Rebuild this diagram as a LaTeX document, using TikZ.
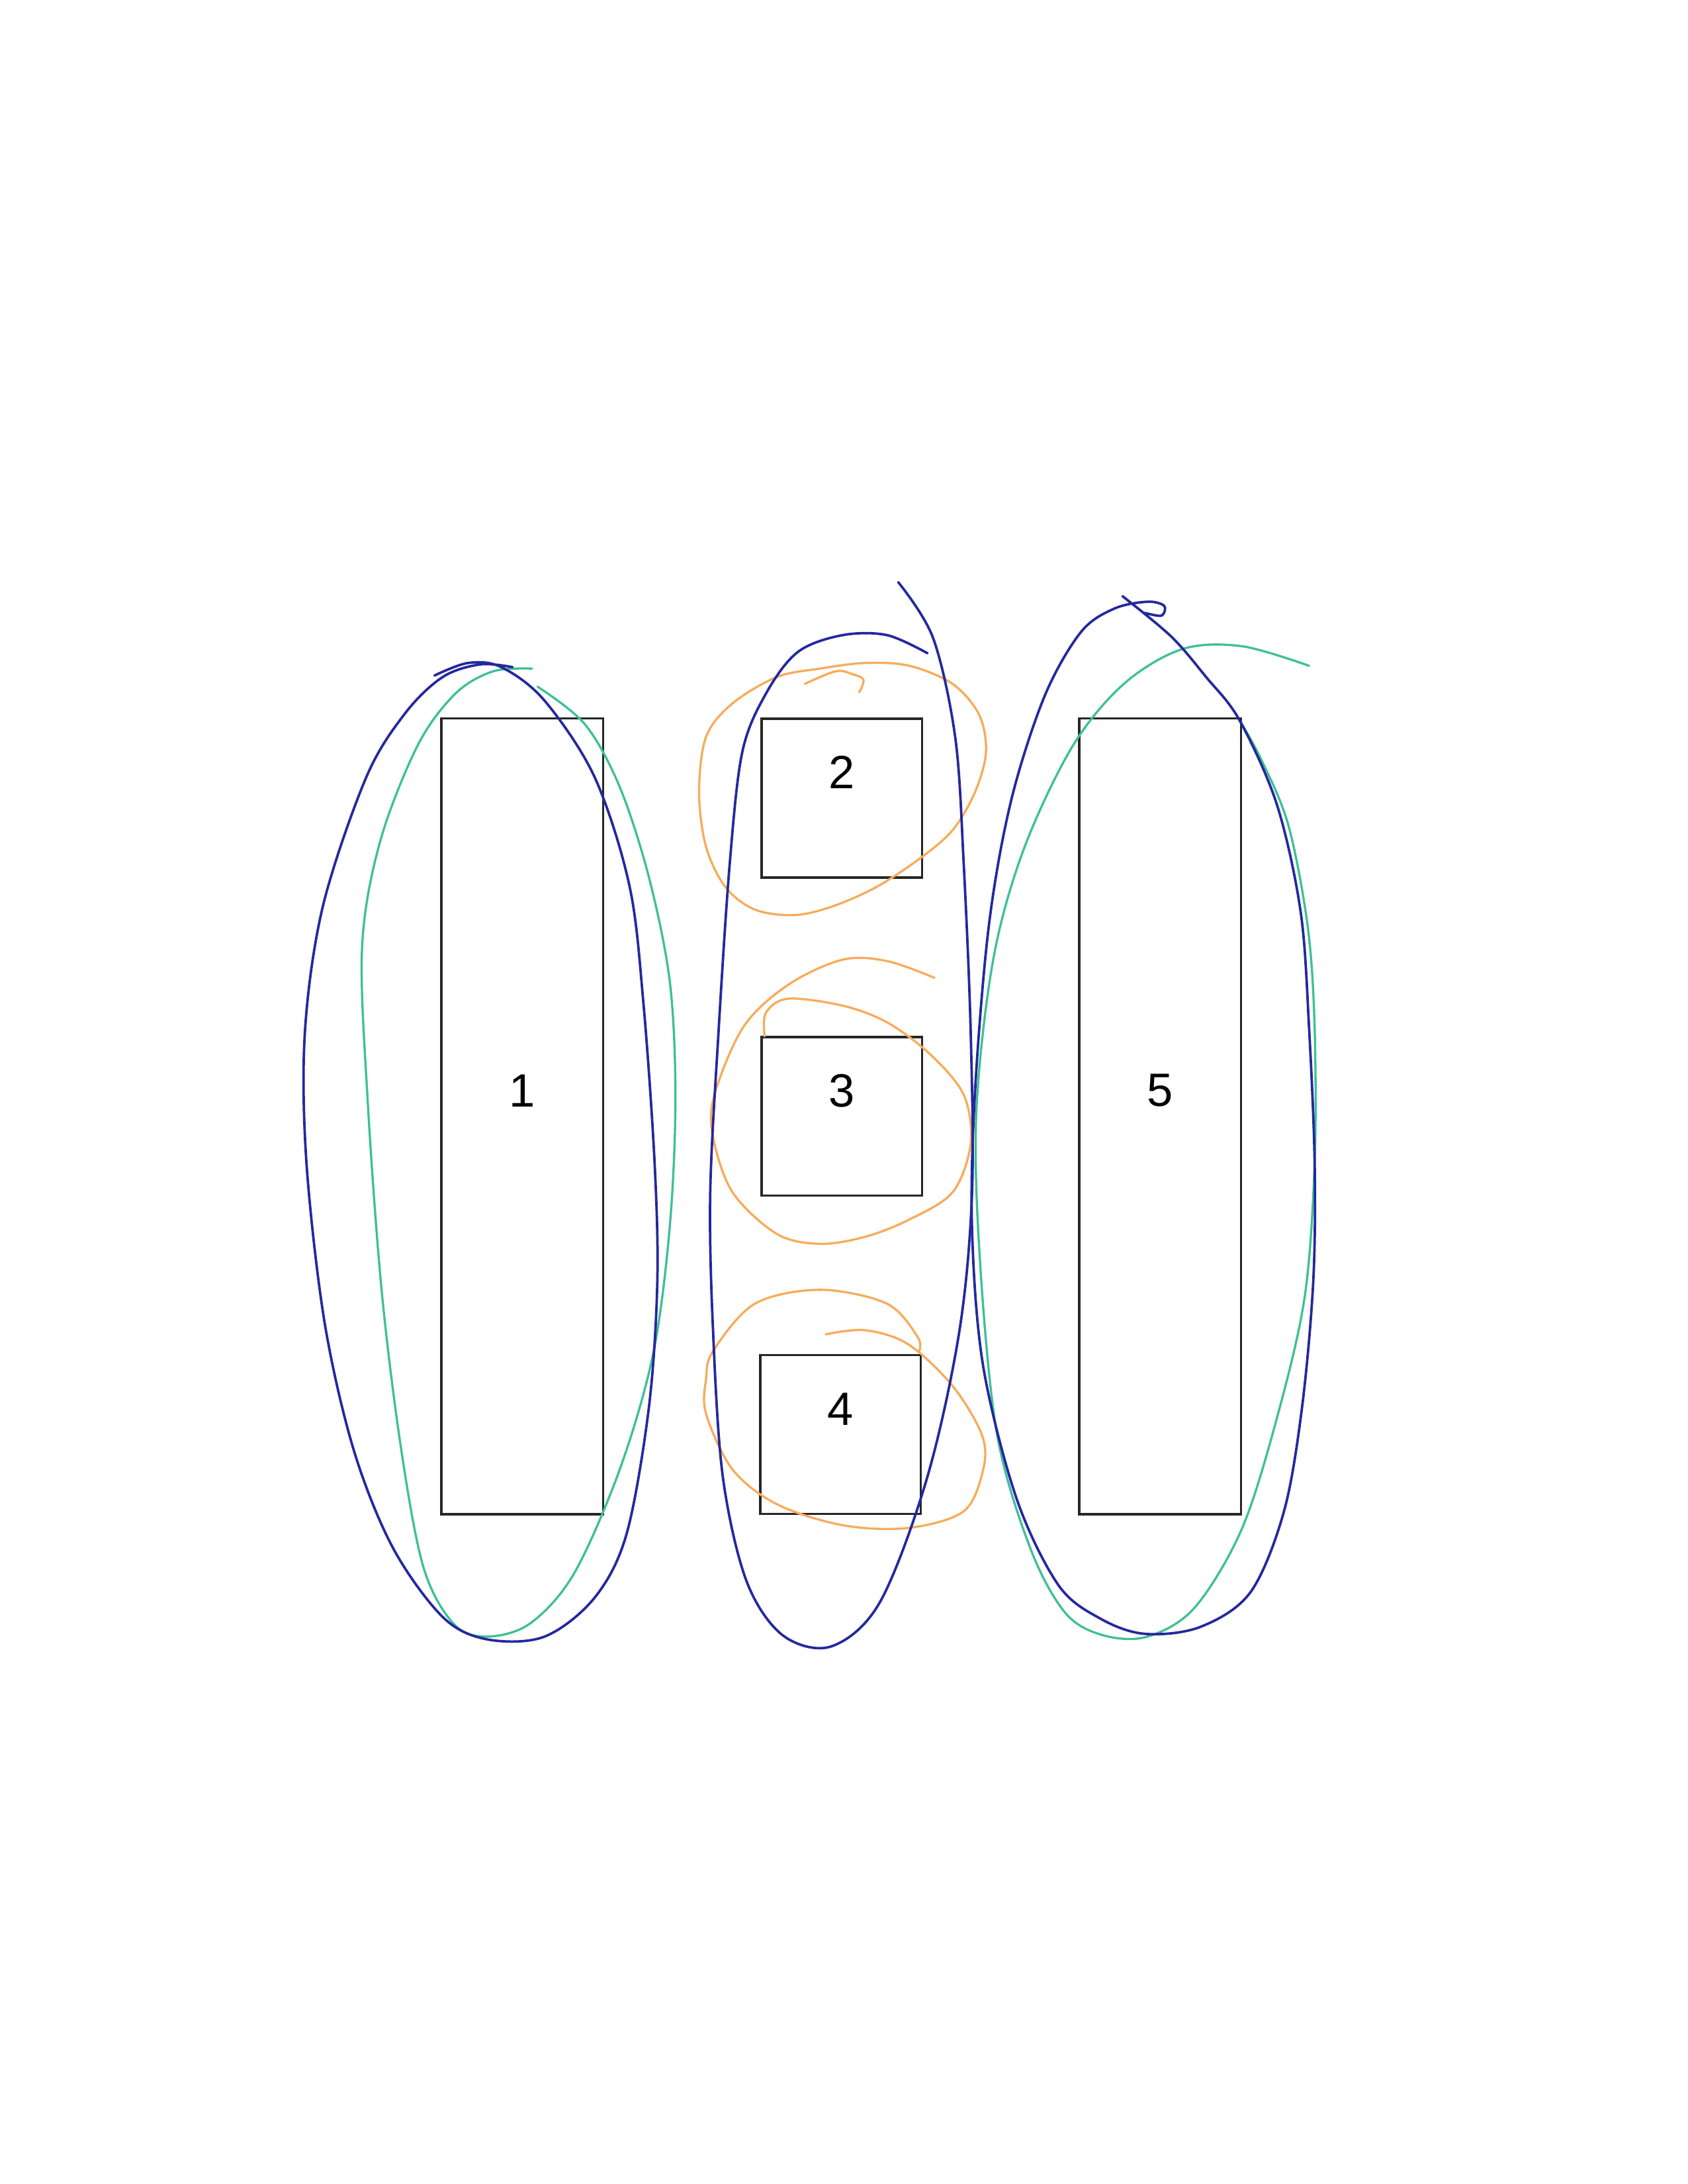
\documentclass[tikz,border=0pt]{standalone}
\usepackage{fontspec}
\setmainfont{Liberation Sans}
\usepackage{xcolor}

\definecolor{penblue}{RGB}{36,40,158}
\definecolor{pengreen}{RGB}{62,192,150}
\definecolor{penorange}{RGB}{246,172,92}

\begin{document}
\begin{tikzpicture}[
  x=0.017814cm, y=-0.017814cm,
  box/.style={rectangle,draw=black!85,line width=0.8pt,inner sep=0pt},
  tall/.style={box,minimum width=2.066cm,minimum height=10.17cm},
  square/.style={box,minimum width=2.05cm,minimum height=2.03cm},
  tag/.style={inner sep=0pt,font=\fontsize{17}{20}\selectfont},
  blueloop/.style={penblue,line width=0.9pt,line cap=round,line join=round},
  greenloop/.style={pengreen,line width=0.8pt,line cap=round,line join=round},
  orangeloop/.style={penorange,line width=0.8pt,line cap=round,line join=round}
]
  \useasboundingbox[fill=white] (0,0) rectangle (1212,1568);

  % parts
  \node[tall] (p1) at (375,801.5) {};
  \node[square] (p2) at (604.5,573) {};
  \node[square] (p3) at (604.5,801.5) {};
  \node[square] (p4) at (603.5,1030) {};
  \node[tall] (p5) at (833,801.5) {};
  \node[tag] (t1) at ([yshift=0.33cm]p1.center) {1};
  \node[tag] (t2) at ([yshift=0.33cm]p2.center) {2};
  \node[tag] (t3) at ([yshift=0.33cm]p3.center) {3};
  \node[tag] (t4) at ([yshift=0.33cm]p4.center) {4};
  \node[tag] (t5) at ([yshift=0.33cm]p5.center) {5};

  % left group
  \draw[greenloop] plot[smooth,tension=0.55] coordinates {
    (382,480) (354,482) (327,498) (300,535) (273,604) (260,680)
    (264,790) (274,926) (288,1040) (304,1125) (325,1165) (348,1175)
    (380,1166) (412,1130) (445,1055) (469,972) (481,880) (485,788)
    (481,705) (466,630) (445,565) (420,520) (386,493)};
  \draw[blueloop] plot[smooth,tension=0.55] coordinates {
    (312,485) (336,476) (360,479) (391,503) (427,558) (452,636)
    (462,720) (470,834) (472,920) (466,1010) (450,1101)
    (427,1147) (391,1175) (350,1177) (318,1161) (282,1111) (254,1041)
    (233,949) (220,834) (219,740) (232,650) (263,558)
    (291,512) (318,486) (345,477) (368,479)};

  % middle group
  \draw[orangeloop] plot[smooth,tension=0.6] coordinates {
    (617,497) (620,488) (612,484) (600,482) (578,491)};
  \draw[orangeloop] plot[smooth cycle,tension=0.55] coordinates {
    (621,476) (653,478) (684,491) (703,513) (708,540) (700,569) (684,596)
    (661,616) (629,637) (597,651) (570,657) (542,653) (521,637)
    (507,608) (502,569) (507,529) (526,505) (558,486) (589,480)};
  \draw[orangeloop] plot[smooth,tension=0.55] coordinates {
    (671,702) (637,690) (605,689) (566,707) (534,737) (513,786) (512,816)
    (526,856) (558,886) (589,893) (621,888) (652,876) (684,856)
    (697,821) (692,786) (668,757) (637,734) (605,722) (566,717)
    (550,727) (549,744)};
  \draw[orangeloop] plot[smooth,tension=0.55] coordinates {
    (593,958) (621,955) (652,965) (684,995) (705,1030) (706,1055)
    (692,1085) (652,1097) (605,1095) (558,1080) (526,1055) (507,1015)
    (507,990) (512,970) (542,936) (589,926) (637,936) (659,960) (660,970)};
  \draw[blueloop] plot[smooth,tension=0.55] coordinates {
    (666,469) (637,456) (605,456) (573,468) (550,498) (533,540)
    (524,620) (516,740) (510,856) (512,955) (519,1060) (536,1135)
    (562,1174) (597,1182) (632,1150) (666,1060) (689,955) (698,856)
    (697,740) (692,620) (686,530) (670,458) (645,418)};

  % right group
  \draw[greenloop] plot[smooth,tension=0.55] coordinates {
    (940,478) (892,464) (849,466) (807,491) (770,536) (735,610) (713,690)
    (701,800) (704,910) (716,1030) (740,1112) (765,1158) (792,1174)
    (824,1175) (858,1154) (892,1097) (918,1014) (937,930) (944,835)
    (944,738) (939,665) (925,592) (905,544) (890,517)};
  \draw[blueloop] plot[smooth,tension=0.55] coordinates {
    (806,428) (841,457) (866,486) (890,517) (917,578) (934,655) (940,738)
    (944,835) (943,920) (935,1010) (922,1085) (898,1143) (862,1168)
    (822,1173) (790,1162) (760,1138) (730,1076) (706,981) (698,883)
    (700,786) (710,665) (726,575) (750,500) (776,454) (800,437)
    (824,432) (836,435) (834,442) (822,440)};
\end{tikzpicture}
\end{document}
